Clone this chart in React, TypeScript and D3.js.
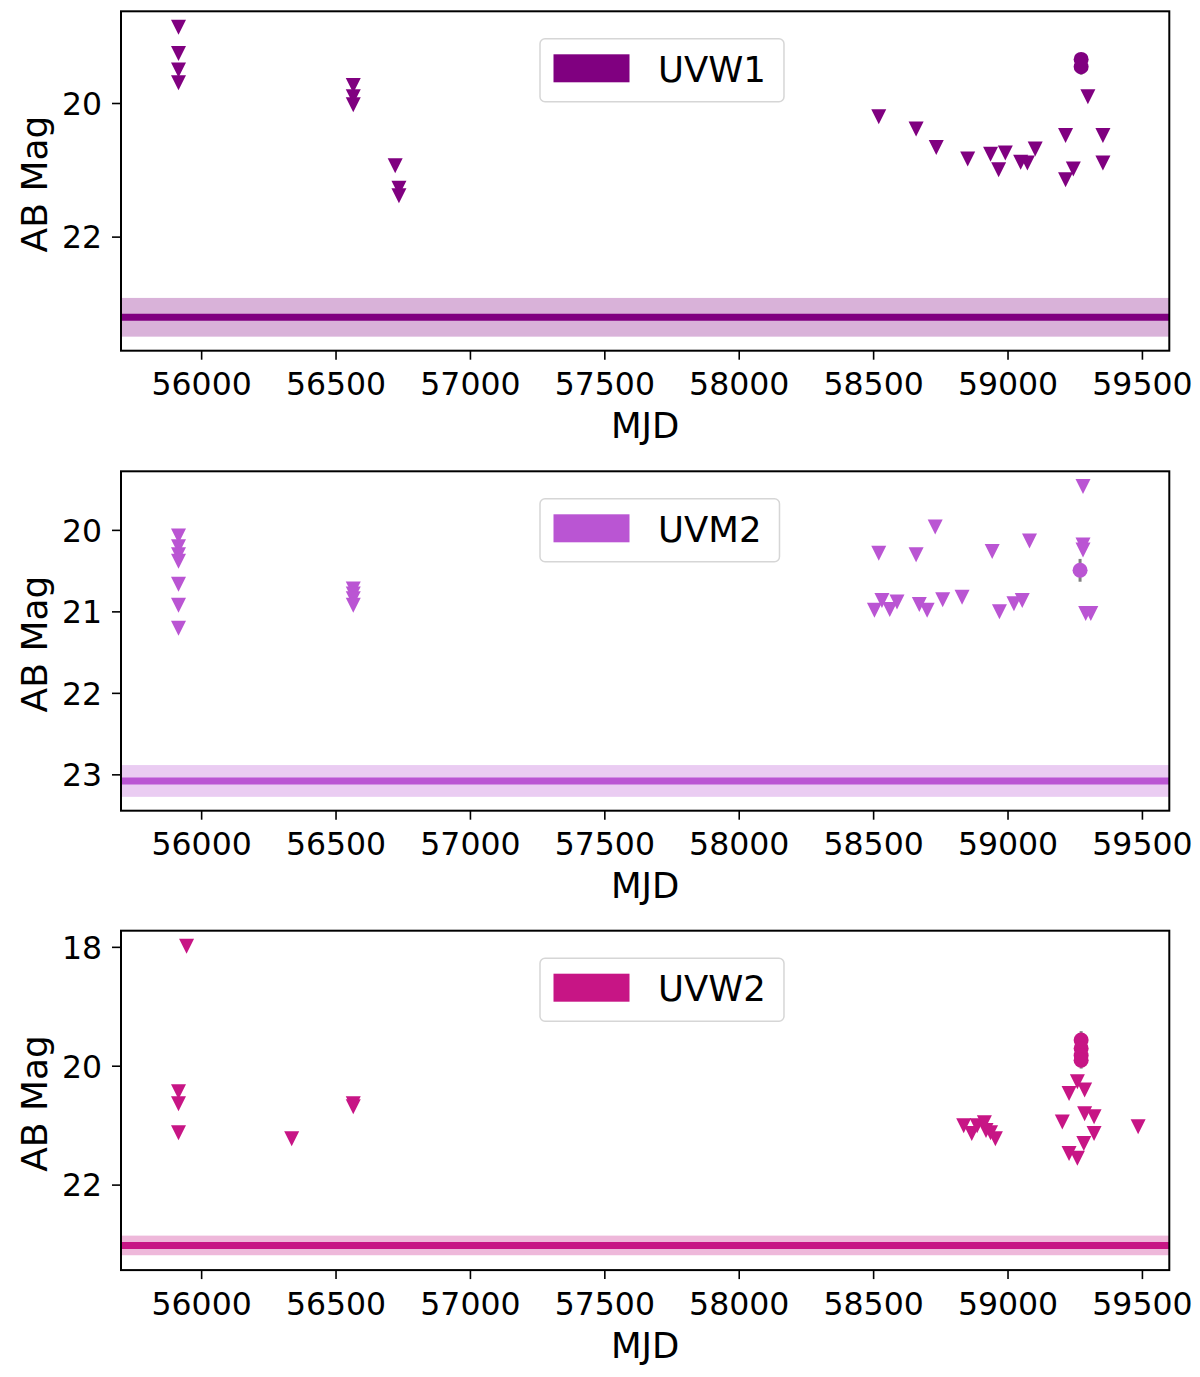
import React, { useRef, useEffect } from "react";
import * as d3 from "d3";

// [MJD, AB mag] upper limits (triangles) and detections [MJD, mag, err]
const uvw1Limits: [number, number][] = [
  [55914, 18.86], [55914, 19.25], [55914, 19.5], [55914, 19.69],
  [56564, 19.73], [56564, 19.9], [56564, 20.02],
  [56720, 20.93], [56734, 21.27], [56734, 21.38],
  [58519, 20.2], [58658, 20.38], [58733, 20.66], [58850, 20.83],
  [58935, 20.76], [58965, 20.99], [58990, 20.74], [59047, 20.88],
  [59072, 20.89], [59101, 20.68], [59214, 20.48], [59214, 21.14],
  [59243, 20.98], [59297, 19.9], [59353, 20.48], [59353, 20.89],
];
const uvw1Detections: [number, number, number][] = [
  [59272, 19.34, 0.08], [59272, 19.45, 0.12],
];

const uvm2Limits: [number, number][] = [
  [55914, 20.07], [55914, 20.2], [55914, 20.3], [55914, 20.38],
  [55914, 20.66], [55914, 20.92], [55914, 21.2],
  [56564, 20.72], [56564, 20.78], [56564, 20.84], [56564, 20.92],
  [58519, 20.28], [58658, 20.3], [58729, 19.96], [58941, 20.26],
  [59080, 20.13], [59279, 19.46], [59279, 20.18], [59279, 20.24],
  [58503, 20.98], [58531, 20.86], [58560, 20.97], [58587, 20.88],
  [58670, 20.91], [58699, 20.98], [58757, 20.85], [58829, 20.82],
  [58968, 21.0], [59022, 20.9], [59053, 20.86], [59289, 21.02], [59308, 21.02],
];
const uvm2Detections: [number, number, number][] = [
  [59268, 20.49, 0.14],
];

const uvw2Limits: [number, number][] = [
  [55944, 17.98], [55914, 20.43], [55914, 20.63], [55914, 21.12],
  [56335, 21.22], [56564, 20.63], [56564, 20.68],
  [58835, 21.0], [58865, 21.13], [58885, 21.0], [58912, 20.95],
  [58918, 21.08], [58935, 21.12], [58953, 21.22],
  [59202, 20.94], [59258, 20.26], [59227, 20.46], [59285, 20.4],
  [59285, 20.8], [59320, 20.85], [59320, 21.13], [59282, 21.3],
  [59227, 21.47], [59258, 21.55], [59484, 21.02],
];
const uvw2Detections: [number, number, number][] = [
  [59272, 19.56, 0.15], [59272, 19.7, 0.15], [59272, 19.82, 0.15], [59272, 19.9, 0.14],
];

const filterNames = ["UVW1", "UVM2", "UVW2"];
const filterColors = ["#800080", "#ba55d3", "#c71585"];
const templateMag = [23.2, 23.075, 23.015];
const templateErr = [0.29, 0.195, 0.165];
const yDomains: [number, number][] = [[18.62, 23.7], [19.275, 23.44], [17.72, 23.43]];
const yTicks = [[20, 22], [20, 21, 22, 23], [18, 20, 22]];
const xTicks = [56000, 56500, 57000, 57500, 58000, 58500, 59000, 59500];
const limitSets = [uvw1Limits, uvm2Limits, uvw2Limits];
const detectionSets = [uvw1Detections, uvm2Detections, uvw2Detections];

export default function App() {
  const ref = useRef<HTMLDivElement>(null);

  useEffect(() => {
    if (!ref.current) return;
    ref.current.innerHTML = "";

    const W = 1200, H = 1377;
    const left = 121, right = 1169.3;
    const tops = [11.3, 471.3, 930.7];
    const ph = 339.4;
    const font = "DejaVu Sans, sans-serif";

    const svg = d3.select(ref.current)
      .append("svg")
      .attr("width", W)
      .attr("height", H)
      .style("position", "absolute")
      .style("left", "0px")
      .style("top", "0px")
      .style("background", "#fff")
      .attr("font-family", font);

    const x = d3.scaleLinear().domain([55700, 59600]).range([left, right]);

    filterNames.forEach((name, i) => {
      const top = tops[i];
      const bottom = top + ph;
      const color = filterColors[i];
      const y = d3.scaleLinear().domain(yDomains[i]).range([top, bottom]);
      const g = svg.append("g");

      // template band + line
      g.append("rect")
        .attr("x", left)
        .attr("width", right - left)
        .attr("y", y(templateMag[i] - templateErr[i]))
        .attr("height", y(templateMag[i] + templateErr[i]) - y(templateMag[i] - templateErr[i]))
        .attr("fill", color)
        .attr("opacity", 0.3);
      g.append("line")
        .attr("x1", left).attr("x2", right)
        .attr("y1", y(templateMag[i])).attr("y2", y(templateMag[i]))
        .attr("stroke", color)
        .attr("stroke-width", 7);

      // error bars for detections
      g.selectAll(".err")
        .data(detectionSets[i])
        .join("line")
        .attr("x1", d => x(d[0])).attr("x2", d => x(d[0]))
        .attr("y1", d => y(d[1] - d[2])).attr("y2", d => y(d[1] + d[2]))
        .attr("stroke", "#808080")
        .attr("stroke-width", 3);

      // upper limits
      const s = 7.5;
      g.selectAll(".lim")
        .data(limitSets[i])
        .join("path")
        .attr("d", d => {
          const cx = x(d[0]), cy = y(d[1]);
          return `M${cx - s},${cy - s}L${cx + s},${cy - s}L${cx},${cy + s}Z`;
        })
        .attr("fill", color);

      // detections
      g.selectAll(".det")
        .data(detectionSets[i])
        .join("circle")
        .attr("cx", d => x(d[0]))
        .attr("cy", d => y(d[1]))
        .attr("r", 7.5)
        .attr("fill", color);

      // axes frame
      g.append("rect")
        .attr("x", left).attr("y", top)
        .attr("width", right - left).attr("height", ph)
        .attr("fill", "none")
        .attr("stroke", "#000")
        .attr("stroke-width", 2);

      // x ticks
      xTicks.forEach(t => {
        g.append("line")
          .attr("x1", x(t)).attr("x2", x(t))
          .attr("y1", bottom).attr("y2", bottom + 9)
          .attr("stroke", "#000").attr("stroke-width", 1.6);
        g.append("text")
          .attr("x", x(t)).attr("y", bottom + 44.5)
          .attr("text-anchor", "middle")
          .attr("font-size", 31.5)
          .text(t);
      });
      g.append("text")
        .attr("x", (left + right) / 2).attr("y", bottom + 87.5)
        .attr("text-anchor", "middle")
        .attr("font-size", 35.5)
        .text("MJD");

      // y ticks
      yTicks[i].forEach(t => {
        g.append("line")
          .attr("x1", left - 9).attr("x2", left)
          .attr("y1", y(t)).attr("y2", y(t))
          .attr("stroke", "#000").attr("stroke-width", 1.6);
        g.append("text")
          .attr("x", left - 19).attr("y", y(t))
          .attr("dy", "0.36em")
          .attr("text-anchor", "end")
          .attr("font-size", 31.5)
          .text(t);
      });
      g.append("text")
        .attr("transform", `translate(${47},${top + ph / 2 + 3}) rotate(-90)`)
        .attr("text-anchor", "middle")
        .attr("font-size", 36)
        .text("AB Mag");

      // legend
      const lx = 540, ly = top + 27.5;
      const box = g.append("rect")
        .attr("x", lx).attr("y", ly)
        .attr("height", 63)
        .attr("rx", 5)
        .attr("fill", "#fff")
        .attr("fill-opacity", 0.8)
        .attr("stroke", "#d6d6d6")
        .attr("stroke-width", 1.5);
      g.append("rect")
        .attr("x", lx + 13.5).attr("y", ly + 15.5)
        .attr("width", 76).attr("height", 28)
        .attr("fill", color);
      const label = g.append("text")
        .attr("x", lx + 118).attr("y", ly + 43)
        .attr("font-size", 35.5)
        .text(name);
      const tw = (label.node() as SVGTextElement).getComputedTextLength();
      box.attr("width", 118 + tw + 18);
    });
  }, []);

  return <div ref={ref} />;
}
